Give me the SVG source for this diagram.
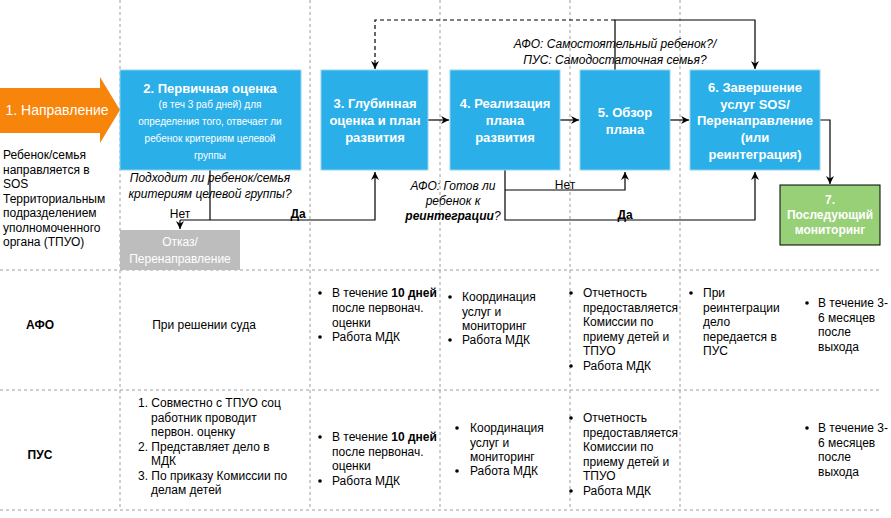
<svg xmlns="http://www.w3.org/2000/svg" width="891" height="518" viewBox="0 0 891 518">
<defs>
<marker id="ah" markerWidth="10" markerHeight="10" refX="8" refY="5" orient="auto" markerUnits="userSpaceOnUse">
<path d="M0,1 L8,5 L0,9 L2.5,5 Z" fill="#000"/>
</marker>
<style>
text{font-family:"Liberation Sans",Arial,sans-serif;font-size:12px;fill:#000}
.grid{stroke:#9e9e9e;stroke-width:1;stroke-dasharray:3 3;fill:none}
.box{fill:#2AAFE8;stroke:#8FD3F4;stroke-width:1}
.bt{fill:#fff;font-weight:bold;font-size:13px;text-anchor:middle}
.edge{stroke:#000;stroke-width:1.2;fill:none}
.it{font-style:italic;text-anchor:middle}
.c{text-anchor:middle}
.b{font-weight:bold}
</style>
</defs>
<rect width="891" height="518" fill="#fff"/>
<g id="grid">
<line class="grid" x1="120" y1="0" x2="120" y2="510"/>
<line class="grid" x1="310" y1="0" x2="310" y2="510"/>
<line class="grid" x1="440" y1="0" x2="440" y2="510"/>
<line class="grid" x1="570" y1="0" x2="570" y2="510"/>
<line class="grid" x1="680" y1="0" x2="680" y2="510"/>
<line class="grid" x1="0" y1="270" x2="880" y2="270"/>
<line class="grid" x1="0" y1="390" x2="880" y2="390"/>
<line class="grid" x1="0" y1="510" x2="880" y2="510"/>
</g>
<g id="connectors">
<path class="edge" d="M210,170 V220"/>
<path class="edge" d="M180,220 H375 V172" marker-end="url(#ah)"/>
<path class="edge" d="M180,220 V229" marker-end="url(#ah)"/>
<path class="edge" d="M428,120 H449" marker-end="url(#ah)"/>
<path class="edge" d="M560,120 H579" marker-end="url(#ah)"/>
<path class="edge" d="M670,120 H689" marker-end="url(#ah)"/>
<path class="edge" d="M820,120 H830 V184" marker-end="url(#ah)"/>
<path class="edge" d="M505,170 V220 H755 V172" marker-end="url(#ah)"/>
<path class="edge" d="M505,190 H625 V172" marker-end="url(#ah)"/>
<path class="edge" d="M615,70 V20 H755 V69" marker-end="url(#ah)"/>
<path class="edge" d="M615,20 H375 V69" stroke-dasharray="4 3" marker-end="url(#ah)"/>
<text x="180" y="218" class="c">Нет</text>
<text x="298" y="218" class="c b">Да</text>
<text x="565" y="189" class="c">Нет</text>
<text x="625" y="219" class="c b">Да</text>
<text x="210" y="182" class="it">Подходит ли ребенок/семья</text>
<text x="210" y="198" class="it">критериям целевой группы?</text>
<text x="453" y="190" class="it">АФО: Готов ли</text>
<text x="453" y="205" class="it">ребенок к</text>
<text x="453" y="220" class="it"><tspan font-weight="bold">реинтеграции</tspan>?</text>
<text x="615" y="48" class="it">АФО: Самостоятельный ребенок?/</text>
<text x="615" y="64" class="it">ПУС: Самодостаточная семья?</text>
</g>
<g id="n1">
<path d="M0,88 H100 V77 L120,110 L100,143 V133 H0 Z" fill="#F7850B"/>
<text x="57" y="115" class="c" style="fill:#fff;font-size:14px">1. Направление</text>
</g>
<g id="n1note">
<text x="3" y="159">Ребенок/семья</text>
<text x="3" y="174">направляется в</text>
<text x="3" y="188">SOS</text>
<text x="3" y="203">Территориальным</text>
<text x="3" y="217">подразделением</text>
<text x="3" y="232">уполномоченного</text>
<text x="3" y="246">органа (ТПУО)</text>
</g>
<g id="n2">
<rect class="box" x="120" y="70" width="181" height="100"/>
<text x="210" y="93" class="bt">2. Первичная оценка</text>
<text x="210" y="108" class="c" style="fill:#fff;font-size:10px">(в теч 3 раб дней) для</text>
<text x="210" y="125" class="c" style="fill:#fff;font-size:10px">определения того, отвечает ли</text>
<text x="210" y="142" class="c" style="fill:#fff;font-size:10px">ребенок критериям целевой</text>
<text x="210" y="159" class="c" style="fill:#fff;font-size:10px">группы</text>
</g>
<g id="reject">
<rect x="120" y="230" width="120" height="40" fill="#BDBDBD"/>
<text x="180" y="246" class="c" style="fill:#fff">Отказ/</text>
<text x="180" y="263" class="c" style="fill:#fff">Перенаправление</text>
</g>
<g id="n3">
<rect class="box" x="321" y="70" width="107" height="100"/>
<text x="375" y="108" class="bt">3. Глубинная</text>
<text x="375" y="125" class="bt">оценка и план</text>
<text x="375" y="142" class="bt">развития</text>
</g>
<g id="n4">
<rect class="box" x="450" y="70" width="110" height="100"/>
<text x="505" y="108" class="bt">4. Реализация</text>
<text x="505" y="125" class="bt">плана</text>
<text x="505" y="142" class="bt">развития</text>
</g>
<g id="n5">
<rect class="box" x="580" y="70" width="90" height="100"/>
<text x="625" y="117" class="bt">5. Обзор</text>
<text x="625" y="134" class="bt">плана</text>
</g>
<g id="n6">
<rect class="box" x="690" y="70" width="130" height="100"/>
<text x="755" y="92" class="bt">6. Завершение</text>
<text x="755" y="109" class="bt">услуг SOS/</text>
<text x="755" y="125" class="bt">Перенаправление</text>
<text x="755" y="142" class="bt">(или</text>
<text x="755" y="159" class="bt">реинтеграция)</text>
</g>
<g id="n7">
<rect x="780" y="185" width="100" height="60" fill="#97D077" stroke="#000" stroke-width="1"/>
<text x="830" y="204" class="bt" style="font-size:12px">7.</text>
<text x="830" y="219" class="bt" style="font-size:12px">Последующий</text>
<text x="830" y="234" class="bt" style="font-size:12px">мониторинг</text>
</g>
<g id="row-afo">
<text x="40" y="329" class="c b">АФО</text>
<text x="204" y="329" class="c">При решении суда</text>
<g>
<circle cx="320" cy="293" r="1.8"/><text x="332" y="297">В течение <tspan font-weight="bold">10 дней</tspan></text>
<text x="332" y="312">после первонач.</text>
<text x="332" y="327">оценки</text>
<circle cx="320" cy="337" r="1.8"/><text x="332" y="341">Работа МДК</text>
</g>
<g>
<circle cx="450" cy="297" r="1.8"/><text x="462" y="301">Координация</text>
<text x="462" y="316">услуг и</text>
<text x="462" y="330">мониторинг</text>
<circle cx="450" cy="340" r="1.8"/><text x="462" y="344">Работа МДК</text>
</g>
<g>
<circle cx="571" cy="293" r="1.8"/><text x="583" y="297">Отчетность</text>
<text x="583" y="312">предоставляется</text>
<text x="583" y="326">Комиссии по</text>
<text x="583" y="341">приему детей и</text>
<text x="583" y="355">ТПУО</text>
<circle cx="571" cy="366" r="1.8"/><text x="583" y="370">Работа МДК</text>
</g>
<g>
<circle cx="691" cy="293" r="1.8"/><text x="703" y="297">При</text>
<text x="703" y="312">реинтеграции</text>
<text x="703" y="326">дело</text>
<text x="703" y="341">передается в</text>
<text x="703" y="355">ПУС</text>
</g>
<g>
<circle cx="807" cy="303" r="1.8"/><text x="818" y="307">В течение 3-</text>
<text x="818" y="322">6 месяцев</text>
<text x="818" y="336">после</text>
<text x="818" y="351">выхода</text>
</g>
</g>
<g id="row-pus">
<text x="40" y="459" class="c b">ПУС</text>
<g>
<text x="138" y="407">1. Совместно с ТПУО соц</text>
<text x="151" y="422">работник проводит</text>
<text x="151" y="436">первон. оценку</text>
<text x="138" y="451">2. Представляет дело в</text>
<text x="151" y="465">МДК</text>
<text x="138" y="480">3. По приказу Комиссии по</text>
<text x="151" y="494">делам детей</text>
</g>
<g>
<circle cx="320" cy="437" r="1.8"/><text x="332" y="441">В течение <tspan font-weight="bold">10 дней</tspan></text>
<text x="332" y="456">после первонач.</text>
<text x="332" y="470">оценки</text>
<circle cx="320" cy="481" r="1.8"/><text x="332" y="485">Работа МДК</text>
</g>
<g>
<circle cx="457" cy="428" r="1.8"/><text x="470" y="432">Координация</text>
<text x="470" y="447">услуг и</text>
<text x="470" y="461">мониторинг</text>
<circle cx="457" cy="471" r="1.8"/><text x="470" y="475">Работа МДК</text>
</g>
<g>
<circle cx="571" cy="418" r="1.8"/><text x="583" y="422">Отчетность</text>
<text x="583" y="437">предоставляется</text>
<text x="583" y="451">Комиссии по</text>
<text x="583" y="466">приему детей и</text>
<text x="583" y="480">ТПУО</text>
<circle cx="571" cy="491" r="1.8"/><text x="583" y="495">Работа МДК</text>
</g>
<g>
<circle cx="807" cy="428" r="1.8"/><text x="818" y="432">В течение 3-</text>
<text x="818" y="447">6 месяцев</text>
<text x="818" y="461">после</text>
<text x="818" y="476">выхода</text>
</g>
</g>
</svg>
